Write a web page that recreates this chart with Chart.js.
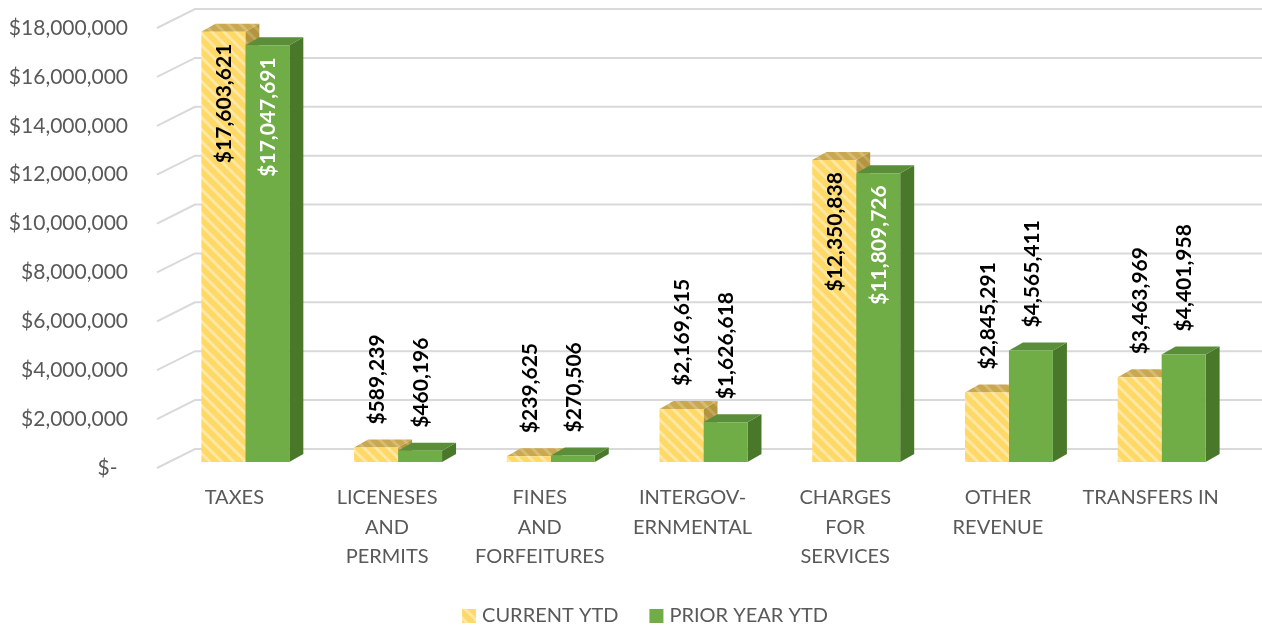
<!DOCTYPE html>
<html>
<head>
<meta charset="utf-8">
<script src="https://cdn.jsdelivr.net/npm/chart.js@4.4.0/dist/chart.umd.min.js"></script>
<style>
  html, body { margin: 0; padding: 0; background: #fff; }
</style>
</head>
<body>
<canvas id="chart" width="1262" height="629"></canvas>
<script>
const categories = [
  ["TAXES"],
  ["LICENESES", "AND", "PERMITS"],
  ["FINES", "AND", "FORFEITURES"],
  ["INTERGOV-", "ERNMENTAL"],
  ["CHARGES", "FOR", "SERVICES"],
  ["OTHER", "REVENUE"],
  ["TRANSFERS IN"]
];
const currentYtd = [17603621, 589239, 239625, 2169615, 12350838, 2845291, 3463969];
const priorYtd = [17047691, 460196, 270506, 1626618, 11809726, 4565411, 4401958];
const seriesNames = ["CURRENT YTD", "PRIOR YEAR YTD"];
const yMax = 18000000;
const yStep = 2000000;

const FONT = "Lato";
const depthX = 14;
const depthY = -8;

// diagonal light stripes on a base colour
function stripes(base, line) {
  const c = document.createElement("canvas");
  c.width = 12;
  c.height = 12;
  const g = c.getContext("2d");
  g.fillStyle = base;
  g.fillRect(0, 0, 12, 12);
  g.strokeStyle = line;
  g.lineWidth = 3;
  g.beginPath();
  g.moveTo(-3, -3); g.lineTo(15, 15);
  g.moveTo(-3, 9); g.lineTo(3, 15);
  g.moveTo(9, -3); g.lineTo(15, 3);
  g.stroke();
  return g.createPattern(c, "repeat");
}

const yellowFront = stripes("#FFD966", "#FFE7A6");
const faces = [
  { top: stripes("#C9A84F", "#D6BC72"), side: stripes("#B3943F", "#C2A75E") },
  { top: "#5A8E3B", side: "#4A782B" }
];

const money = v => "$" + v.toLocaleString("en-US");

// back wall gridlines, bar tops and sides, value labels, legend
const bar3d = {
  id: "bar3d",
  beforeDatasetsDraw(chart) {
    const ctx = chart.ctx;
    const y = chart.scales.y;
    const left = chart.chartArea.left;
    ctx.save();
    ctx.strokeStyle = "#D9D9D9";
    ctx.lineWidth = 2;
    y.ticks.forEach(t => {
      const py = y.getPixelForValue(t.value);
      ctx.beginPath();
      ctx.moveTo(left - 12, py + 6);
      ctx.lineTo(left + 26, py - 13);
      ctx.lineTo(chart.width, py - 13);
      ctx.stroke();
    });

    for (let i = 0; i < chart.data.labels.length; i++) {
      chart.data.datasets.forEach((ds, d) => {
        const bar = chart.getDatasetMeta(d).data[i];
        const l = bar.x - bar.width / 2;
        const r = bar.x + bar.width / 2;
        const top = bar.y;
        const base = bar.base;
        ctx.fillStyle = faces[d].side;
        ctx.beginPath();
        ctx.moveTo(r, top);
        ctx.lineTo(r + depthX, top + depthY);
        ctx.lineTo(r + depthX, base + depthY);
        ctx.lineTo(r, base);
        ctx.closePath();
        ctx.fill();
        ctx.fillStyle = faces[d].top;
        ctx.beginPath();
        ctx.moveTo(l, top);
        ctx.lineTo(l + depthX, top + depthY);
        ctx.lineTo(r + depthX, top + depthY);
        ctx.lineTo(r, top);
        ctx.closePath();
        ctx.fill();
      });
    }
    ctx.restore();
  },
  afterDatasetsDraw(chart) {
    const ctx = chart.ctx;
    ctx.save();
    ctx.font = "bold 21px " + FONT;
    ctx.textBaseline = "middle";
    chart.data.datasets.forEach((ds, d) => {
      chart.getDatasetMeta(d).data.forEach((bar, i) => {
        const text = money(ds.data[i]);
        const w = ctx.measureText(text).width;
        const inside = bar.base - bar.y > w + 40;
        ctx.save();
        ctx.translate(bar.x + 1, inside ? bar.y + 12 : bar.y - 23);
        ctx.rotate(-Math.PI / 2);
        ctx.textAlign = inside ? "right" : "left";
        ctx.fillStyle = inside && d === 1 ? "#FFFFFF" : "#000000";
        ctx.fillText(text, 0, 0);
        ctx.restore();
      });
    });
    ctx.restore();
  },
  afterDraw(chart) {
    const ctx = chart.ctx;
    ctx.save();
    ctx.font = "20px " + FONT;
    ctx.textBaseline = "middle";
    ctx.textAlign = "left";
    const box = 14, gap = 6, between = 31, cy = 616, cx = 645;
    const items = chart.data.datasets.map(ds => ({
      text: ds.label,
      fill: ds.backgroundColor,
      w: ctx.measureText(ds.label).width
    }));
    const total = items.reduce((s, it) => s + box + gap + it.w, 0) + between * (items.length - 1);
    let x = cx - total / 2;
    items.forEach(it => {
      ctx.fillStyle = it.fill;
      ctx.fillRect(x, cy - box / 2, box, box);
      ctx.fillStyle = "#595959";
      ctx.fillText(it.text, x + box + gap, cy);
      x += box + gap + it.w + between;
    });
    ctx.restore();
  }
};

new Chart(document.getElementById("chart"), {
  type: "bar",
  data: {
    labels: categories,
    datasets: [
      { label: seriesNames[0], data: currentYtd, backgroundColor: yellowFront, borderWidth: 0 },
      { label: seriesNames[1], data: priorYtd, backgroundColor: "#70AD47", borderWidth: 0 }
    ]
  },
  options: {
    responsive: false,
    animation: false,
    layout: { padding: { top: 22, right: 24, bottom: 0, left: 0 } },
    datasets: { bar: { categoryPercentage: 0.576, barPercentage: 1 } },
    plugins: {
      tooltip: { enabled: false },
      legend: { display: false }
    },
    scales: {
      x: {
        grid: { display: false, drawTicks: false },
        border: { display: false },
        ticks: {
          color: "#595959",
          font: { family: FONT, size: 20, lineHeight: "29.5px" },
          padding: 21,
          labelOffset: -11,
          maxRotation: 0,
          autoSkip: false
        },
        afterFit: s => { s.height = 167; }
      },
      y: {
        min: 0,
        max: yMax,
        grid: { display: false, drawTicks: false },
        border: { display: false },
        ticks: {
          stepSize: yStep,
          color: "#595959",
          font: { family: FONT, size: 21 },
          padding: 41,
          labelOffset: 6,
          callback: v => v === 0 ? "$-\u2002" : money(v)
        },
        afterFit: s => {
          s.width = 169;
          s.paddingTop = 0;
          s.paddingBottom = 0;
        }
      }
    }
  },
  plugins: [bar3d]
});
</script>
</body>
</html>
